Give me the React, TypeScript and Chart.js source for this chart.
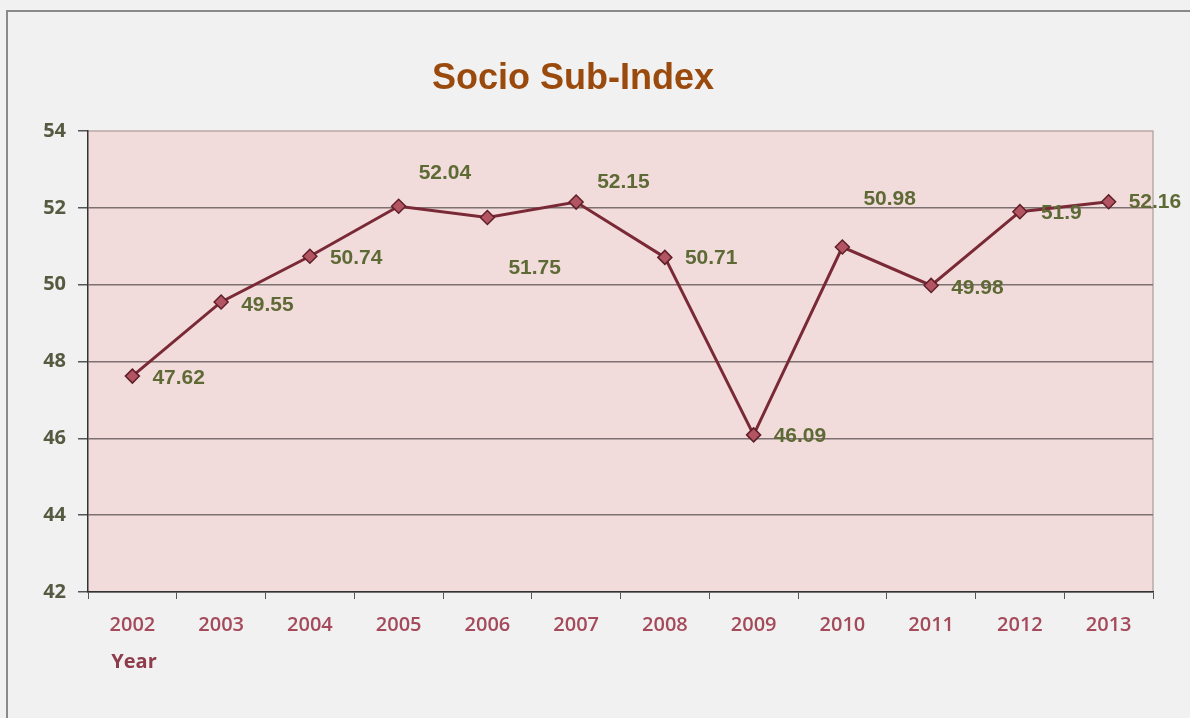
import React, { useEffect, useRef } from "react";
import { Chart, registerables } from "chart.js";

Chart.register(...registerables);

const TITLE = "Socio Sub-Index";
const X_TITLE = "Year";
const YEARS = ["2002", "2003", "2004", "2005", "2006", "2007", "2008", "2009", "2010", "2011", "2012", "2013"];
const VALUES = [47.62, 49.55, 50.74, 52.04, 51.75, 52.15, 50.71, 46.09, 50.98, 49.98, 51.9, 52.16];
const Y_MIN = 42;
const Y_MAX = 54;
const Y_STEP = 2;

// label offsets relative to the point (style only)
const LABEL_DX = [20, 20, 20, 20, 21, 21, 20, 20, 21, 20, 21, 20];
const LABEL_DY = [2, 3, 2, -33, 51, -20, 1, 1, -48, 3, 2, 1];

export default function App() {
  const ref = useRef<HTMLCanvasElement | null>(null);
  useEffect(() => {
    document.body.style.margin = "0";
    document.body.style.background = "#f2f2f2";
    const canvas = ref.current!;
    const decor = {
      id: "decor",
      beforeDraw(chart: any) {
        const { ctx, chartArea: a } = chart;
        ctx.save();
        ctx.fillStyle = "#f1f1f1";
        ctx.fillRect(0, 0, chart.width, chart.height);
        ctx.strokeStyle = "#8a8a8a";
        ctx.lineWidth = 2;
        ctx.strokeRect(7, 11, chart.width + 20, chart.height + 20);
        ctx.fillStyle = "#f2dcdb";
        ctx.fillRect(a.left, a.top, a.right - a.left, a.bottom - a.top);
        ctx.strokeStyle = "#b9a9a9";
        ctx.lineWidth = 1.5;
        ctx.beginPath();
        ctx.moveTo(a.left, a.top);
        ctx.lineTo(a.right, a.top);
        ctx.lineTo(a.right, a.bottom);
        ctx.stroke();
        // title
        ctx.fillStyle = "#9a4a0c";
        ctx.font = "bold 36px 'Liberation Sans', Arial, sans-serif";
        ctx.textAlign = "center";
        ctx.textBaseline = "middle";
        ctx.fillText(TITLE, 573, 79);
        // x title
        ctx.fillStyle = "#8e3b4c";
        ctx.font = "bold 20px 'Open Sans', sans-serif";
        ctx.fillText(X_TITLE, 134, 662);
        ctx.restore();
      },
      afterDatasetsDraw(chart: any) {
        const { ctx } = chart;
        const meta = chart.getDatasetMeta(0);
        ctx.save();
        ctx.fillStyle = "#5e6a35";
        ctx.font = "bold 21px 'Liberation Sans', Arial, sans-serif";
        ctx.textAlign = "left";
        ctx.textBaseline = "middle";
        meta.data.forEach((pt: any, i: number) => {
          ctx.fillText(String(VALUES[i]), pt.x + LABEL_DX[i], pt.y + LABEL_DY[i]);
        });
        ctx.restore();
      },
    };
    const chart = new Chart(canvas, {
      type: "line",
      data: {
        labels: YEARS,
        datasets: [
          {
            data: VALUES,
            borderColor: "#7a2a36",
            borderWidth: 3,
            pointStyle: "rectRot",
            pointRadius: 7,
            pointBackgroundColor: "#b35463",
            pointBorderColor: "#5e1f28",
            pointBorderWidth: 1.5,
            tension: 0,
          },
        ],
      },
      options: {
        animation: false,
        responsive: false,
        devicePixelRatio: 1,
        layout: { padding: { left: 0, right: 37, top: 131, bottom: 0 } },
        plugins: { legend: { display: false }, tooltip: { enabled: false }, title: { display: false } },
        scales: {
          x: {
            offset: true,
            afterFit(s: any) { s.height = 126; },
            grid: {
              offset: true,
              drawOnChartArea: false,
              drawTicks: true,
              tickLength: 7,
              color: "#555",
            },
            border: { color: "#333", width: 1.5 },
            ticks: {
              color: "#a44a5a",
              padding: 14,
              font: { family: "'Open Sans', sans-serif", size: 20, weight: "600" },
              maxRotation: 0,
            },
          },
          y: {
            min: Y_MIN,
            max: Y_MAX,
            afterFit(s: any) { s.width = 88; },
            grid: {
              color: (c: any) => (c.tick && c.tick.value === Y_MAX ? "rgba(0,0,0,0)" : "#7d7070"),
              lineWidth: 1.5,
              drawTicks: true,
              tickLength: 10,
              tickColor: "#555",
            },
            border: { color: "#333", width: 1.5 },
            ticks: {
              stepSize: Y_STEP,
              color: "#555a40",
              padding: 12,
              font: { family: "'Open Sans', sans-serif", size: 20, weight: "bold" },
            },
          },
        },
      },
      plugins: [decor],
    });
    return () => chart.destroy();
  }, []);
  return <canvas ref={ref} width={1190} height={718} style={{ display: "block" }} />;
}
